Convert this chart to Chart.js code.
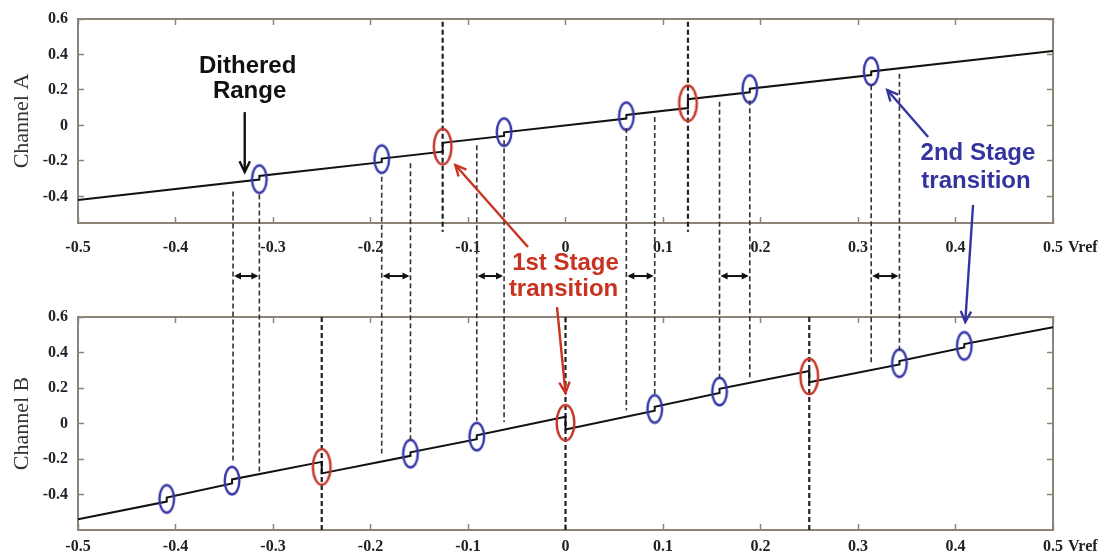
<!DOCTYPE html>
<html>
<head>
<meta charset="utf-8">
<script src="https://cdn.jsdelivr.net/npm/chart.js"></script>
<style>
  html, body { margin: 0; padding: 0; background: #fff; }
  .layer { position: absolute; left: 0; top: 0; width: 1102px; height: 551px; }
</style>
</head>
<body>
<div class="layer"><canvas id="chartA" width="1102" height="551"></canvas></div>
<div class="layer"><canvas id="chartB" width="1102" height="551"></canvas></div>
<script>
// Axis ticks
const xTickValues = [-0.5, -0.4, -0.3, -0.2, -0.1, 0, 0.1, 0.2, 0.3, 0.4, 0.5];
const xTickLabels = ["-0.5", "-0.4", "-0.3", "-0.2", "-0.1", "0", "0.1", "0.2", "0.3", "0.4", "0.5"];
const xUnitLabel = "Vref";
const yTickValues = [-0.4, -0.2, 0, 0.2, 0.4, 0.6];
const yTickLabels = ["-0.4", "-0.2", "0", "0.2", "0.4", "0.6"];

// Channel A transfer curve (a repeated x is a step)
const aLineX = [-0.5, -0.314, -0.314, -0.1885, -0.1885, -0.126, -0.126, -0.063, -0.063, 0.0624, 0.0624, 0.1256, 0.1256, 0.189, 0.189, 0.3135, 0.3135, 0.5];
const aLineY = [-0.42, -0.305, -0.285, -0.207, -0.187, -0.148, -0.098, -0.059, -0.039, 0.039, 0.059, 0.098, 0.148, 0.187, 0.207, 0.284, 0.304, 0.42];
// Channel A circled transitions
const aBlueX = [-0.314, -0.1885, -0.063, 0.0624, 0.189, 0.3135];
const aBlueY = [-0.303, -0.19, -0.038, 0.052, 0.205, 0.305];
const aRedX = [-0.126, 0.1256];
const aRedY = [-0.12, 0.125];
const aStageX = [-0.126, 0.1256];

// Channel B transfer curve
const bLineX = [-0.5, -0.409, -0.409, -0.342, -0.342, -0.25, -0.25, -0.159, -0.159, -0.091, -0.091, 0, 0, 0.0915, 0.0915, 0.158, 0.158, 0.25, 0.25, 0.3425, 0.3425, 0.409, 0.409, 0.5];
const bLineY = [-0.539, -0.44, -0.417, -0.338, -0.315, -0.216, -0.281, -0.182, -0.162, -0.088, -0.066, 0.038, -0.034, 0.072, 0.094, 0.172, 0.196, 0.296, 0.232, 0.333, 0.352, 0.428, 0.448, 0.543];
// Channel B circled transitions
const bBlueX = [-0.409, -0.342, -0.159, -0.091, 0.0915, 0.158, 0.3425, 0.409];
const bBlueY = [-0.425, -0.322, -0.17, -0.074, 0.082, 0.18, 0.34, 0.437];
const bRedX = [-0.25, 0, 0.25];
const bRedY = [-0.245, 0.004, 0.265];
const bStageX = [-0.25, 0, 0.25];

// Dashed links between the channels: start in Channel A units, end in Channel B units
const linkX = [-0.341, -0.314, -0.1885, -0.159, -0.091, -0.063, 0.0624, 0.0915, 0.158, 0.189, 0.3135, 0.3425];
const linkTopY = [-0.373, -0.39, -0.289, -0.213, -0.111, -0.083, -0.015, 0.048, 0.133, 0.142, 0.226, 0.292];
const linkBottomY = [-0.223, -0.272, -0.169, -0.094, 0.015, 0.009, 0.075, 0.159, 0.254, 0.254, 0.328, 0.402];

const frameColor = '#8c8478';
const tickFont = { family: 'Liberation Serif', size: 16, weight: 'bold' };

function ellipseImage(w, h, color, lw) {
    const c = document.createElement('canvas');
    c.width = Math.ceil(w + lw + 2);
    c.height = Math.ceil(h + lw + 2);
    const g = c.getContext('2d');
    g.strokeStyle = color;
    g.lineWidth = lw;
    g.beginPath();
    g.ellipse(c.width / 2, c.height / 2, (w - lw) / 2, (h - lw) / 2, 0, 0, Math.PI * 2);
    g.stroke();
    return c;
}
const blueRing = ellipseImage(17, 30, '#3636a8', 2.4);
const redRing = ellipseImage(20, 38, '#c2392b', 2.4);

function pts(xs, ys) { return xs.map((x, i) => ({ x: x, y: ys[i] })); }

// fix the box size and drop the label overhang padding
function fixBox(w, h) {
    return s => {
        if (w !== null) s.width = w;
        if (h !== null) s.height = h;
        s.paddingTop = 0; s.paddingBottom = 0; s.paddingLeft = 0; s.paddingRight = 0;
    };
}

function panelScales(yMin, yMax, title, xPad, xHeight) {
    const grid = { drawOnChartArea: false, tickLength: -6, color: frameColor, tickWidth: 1.5 };
    const border = { color: frameColor, width: 2 };
    const setX = s => { s.ticks = xTickValues.map(v => ({ value: v })); };
    const setY = s => { s.ticks = yTickValues.map(v => ({ value: v })); };
    return {
        x: {
            type: 'linear', position: 'bottom', min: -0.5, max: 0.5,
            afterBuildTicks: setX, afterFit: fixBox(null, xHeight),
            ticks: { autoSkip: false, maxRotation: 0, padding: xPad, color: '#222', font: tickFont,
                     callback: (v, i) => xTickLabels[i] },
            grid: grid, border: border
        },
        xTop: {
            type: 'linear', position: 'top', min: -0.5, max: 0.5,
            afterBuildTicks: setX, afterFit: fixBox(null, 0),
            ticks: { display: false }, grid: grid, border: border
        },
        y: {
            type: 'linear', position: 'left', min: yMin, max: yMax,
            afterBuildTicks: setY, afterFit: fixBox(78, null),
            ticks: { padding: 16, color: '#222', font: tickFont, callback: (v, i) => yTickLabels[i] },
            title: { display: true, text: title, color: '#333', padding: { top: 9, bottom: 0 },
                     font: { family: 'Liberation Serif', size: 22 } },
            grid: grid, border: border
        },
        yRight: {
            type: 'linear', position: 'right', min: yMin, max: yMax,
            afterBuildTicks: setY, afterFit: fixBox(0, null),
            ticks: { display: false }, grid: grid, border: border
        }
    };
}

function panelDatasets(lineX, lineY, blueX, blueY, redX, redY, stageX, stageTop, stageBottom) {
    const sets = [
        { data: pts(blueX, blueY), pointStyle: blueRing, pointRadius: 10, showLine: false, order: 0 },
        { data: pts(redX, redY), pointStyle: redRing, pointRadius: 10, showLine: false, order: 0 },
        { data: pts(lineX, lineY), showLine: true, borderColor: '#111', borderWidth: 2, pointRadius: 0, order: 1 }
    ];
    stageX.forEach(x => {
        sets.push({ data: [{ x: x, y: stageTop }, { x: x, y: stageBottom }], showLine: true, clip: false,
                    borderColor: '#222', borderWidth: 2.2, borderDash: [5, 3], pointRadius: 0, order: 2 });
    });
    return sets;
}

// "Vref" after the last x tick label
const unitPlugin = {
    id: 'unit',
    afterDraw(chart) {
        const xs = chart.scales.x;
        const ctx = chart.ctx;
        ctx.save();
        ctx.font = 'bold 16px "Liberation Serif"';
        const px = xs.getPixelForValue(0.5) + ctx.measureText(xTickLabels[xTickLabels.length - 1]).width / 2 + 5;
        const py = xs.top - 6 + xs.options.ticks.padding + 16 * 1.2 / 2;
        ctx.fillStyle = '#222';
        ctx.textAlign = 'left';
        ctx.textBaseline = 'middle';
        ctx.fillText(xUnitLabel, px, py);
        ctx.restore();
    }
};

const common = {
    responsive: false,
    animation: false,
    events: [],
    plugins: { legend: { display: false }, tooltip: { enabled: false } }
};

const chartA = new Chart(document.getElementById('chartA'), {
    type: 'scatter',
    data: { datasets: panelDatasets(aLineX, aLineY, aBlueX, aBlueY, aRedX, aRedY, aStageX, 0.585, -0.6) },
    options: Object.assign({}, common, {
        layout: { padding: { top: 19, right: 49, bottom: 298, left: 0 } },
        scales: panelScales(-0.55, 0.6, 'Channel A', 21, 30)
    }),
    plugins: [unitPlugin]
});

// annotation helpers
function arrowLine(ctx, x1, y1, x2, y2, color, lw, head) {
    const a = Math.atan2(y2 - y1, x2 - x1);
    ctx.strokeStyle = color;
    ctx.lineWidth = lw;
    ctx.setLineDash([]);
    ctx.beginPath();
    ctx.moveTo(x1, y1);
    ctx.lineTo(x2, y2);
    ctx.stroke();
    ctx.beginPath();
    ctx.moveTo(x2 - head * Math.cos(a - 0.45), y2 - head * Math.sin(a - 0.45));
    ctx.lineTo(x2, y2);
    ctx.lineTo(x2 - head * Math.cos(a + 0.45), y2 - head * Math.sin(a + 0.45));
    ctx.stroke();
}

function doubleArrow(ctx, x1, x2, y) {
    ctx.strokeStyle = '#111';
    ctx.fillStyle = '#111';
    ctx.lineWidth = 2;
    ctx.setLineDash([]);
    ctx.beginPath();
    ctx.moveTo(x1 + 3, y);
    ctx.lineTo(x2 - 3, y);
    ctx.stroke();
    [[x1 + 1, 1], [x2 - 1, -1]].forEach(([x, d]) => {
        ctx.beginPath();
        ctx.moveTo(x, y);
        ctx.lineTo(x + d * 7, y - 3.5);
        ctx.lineTo(x + d * 7, y + 3.5);
        ctx.closePath();
        ctx.fill();
    });
}

const black = '#111', red = '#c8321e', blue = '#34349e';
const notesA = [
    { text: 'Dithered', x: -0.326, y: 0.334, color: black },
    { text: 'Range', x: -0.324, y: 0.193, color: black },
    { text: '2nd Stage', x: 0.423, y: -0.156, color: blue },
    { text: 'transition', x: 0.421, y: -0.313, color: blue },
    { text: '1st Stage', x: 0.0, y: -0.776, color: red },
    { text: 'transition', x: -0.002, y: -0.922, color: red }
];
const arrowsA = [
    { x1: -0.329, y1: 0.075, x2: -0.329, y2: -0.263, color: black },
    { x1: 0.372, y1: -0.065, x2: 0.330, y2: 0.200, color: blue },
    { x1: -0.0385, y1: -0.685, x2: -0.113, y2: -0.223, color: red }
];
const arrowsB = [
    { x1: -0.0087, y1: 0.656, x2: 0.0, y2: 0.172, color: red },
    { x1: 0.418, y1: 1.231, x2: 0.41, y2: 0.572, color: blue }
];
const ditherArrowY = -0.849;

const overlayPlugin = {
    id: 'overlay',
    afterDatasetsDraw(chart) {
        const ctx = chart.ctx;
        const xs = chart.scales.x, yb = chart.scales.y, ya = chartA.scales.y;
        ctx.save();
        // links between channel transitions
        ctx.strokeStyle = '#333';
        ctx.lineWidth = 1.6;
        ctx.setLineDash([5, 3]);
        linkX.forEach((x, i) => {
            const px = xs.getPixelForValue(x);
            ctx.beginPath();
            ctx.moveTo(px, ya.getPixelForValue(linkTopY[i]));
            ctx.lineTo(px, yb.getPixelForValue(linkBottomY[i]));
            ctx.stroke();
        });
        // dithered range markers
        for (let i = 0; i < linkX.length; i += 2) {
            doubleArrow(ctx, xs.getPixelForValue(linkX[i]), xs.getPixelForValue(linkX[i + 1]), ya.getPixelForValue(ditherArrowY));
        }
        arrowsA.forEach(a => arrowLine(ctx, xs.getPixelForValue(a.x1), ya.getPixelForValue(a.y1),
            xs.getPixelForValue(a.x2), ya.getPixelForValue(a.y2), a.color, 2.4, 12));
        arrowsB.forEach(a => arrowLine(ctx, xs.getPixelForValue(a.x1), yb.getPixelForValue(a.y1),
            xs.getPixelForValue(a.x2), yb.getPixelForValue(a.y2), a.color, 2.4, 12));
        ctx.font = 'bold 24px "Liberation Sans"';
        ctx.textAlign = 'center';
        ctx.textBaseline = 'middle';
        notesA.forEach(n => {
            ctx.fillStyle = n.color;
            ctx.fillText(n.text, xs.getPixelForValue(n.x), ya.getPixelForValue(n.y));
        });
        ctx.restore();
    }
};

const chartB = new Chart(document.getElementById('chartB'), {
    type: 'scatter',
    data: { datasets: panelDatasets(bLineX, bLineY, bBlueX, bBlueY, bRedX, bRedY, bStageX, 0.6, -0.6) },
    options: Object.assign({}, common, {
        layout: { padding: { top: 317, right: 49, bottom: 0, left: 0 } },
        scales: panelScales(-0.6, 0.6, 'Channel B', 13, 21)
    }),
    plugins: [unitPlugin, overlayPlugin]
});
</script>
</body>
</html>
